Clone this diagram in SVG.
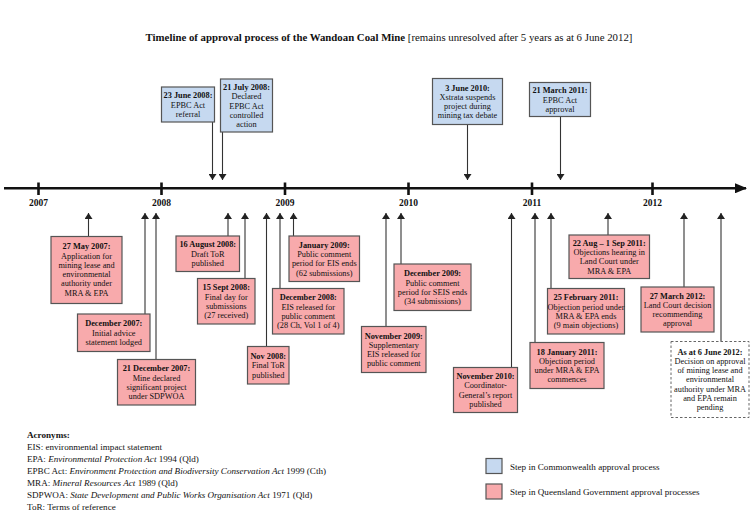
<svg xmlns="http://www.w3.org/2000/svg" width="754" height="516" viewBox="0 0 754 516">
<style>
text{font-family:"Liberation Serif","Times New Roman",serif;fill:#111}
.bx text{font-size:8.3px;text-anchor:middle}
.b{font-weight:bold}
.cw rect{fill:#c6d9f0;stroke:#555;stroke-width:1.2}
.ql rect{fill:#f8aaac;stroke:#555;stroke-width:1.2}
.dash rect{fill:#fff;stroke:#666;stroke-width:1;stroke-dasharray:2.5 2}
.ln{stroke:#333;stroke-width:1.1;fill:none}
.yr{font-size:9.5px;font-weight:bold;text-anchor:middle}
.ac{font-size:9.1px}
</style>
<defs>
<marker id="ah" viewBox="0 0 6 8" refX="6" refY="4" markerWidth="6" markerHeight="8" markerUnits="userSpaceOnUse" orient="auto">
<path d="M0,0 L6,4 L0,8 z" fill="#222"/>
</marker>
<marker id="axh" viewBox="0 0 12 10" refX="11" refY="5" markerWidth="12" markerHeight="10" markerUnits="userSpaceOnUse" orient="auto">
<path d="M0,0 L12,5 L0,10 z" fill="#111"/>
</marker>
</defs>
<rect width="754" height="516" fill="#fff"/>
<text x="389" y="41" style="font-size:10.8px" text-anchor="middle"><tspan font-weight="bold">Timeline of approval process of the Wandoan Coal Mine</tspan> [remains unresolved after 5 years as at 6 June 2012]</text>

<g id="axis">
<line x1="4" y1="188.3" x2="746" y2="188.3" stroke="#111" stroke-width="2.6" marker-end="url(#axh)"/>
<g stroke="#111" stroke-width="2.6">
<line x1="38.5" y1="182.5" x2="38.5" y2="195"/>
<line x1="161.5" y1="182.5" x2="161.5" y2="195"/>
<line x1="285" y1="182.5" x2="285" y2="195"/>
<line x1="408.5" y1="182.5" x2="408.5" y2="195"/>
<line x1="532" y1="182.5" x2="532" y2="195"/>
<line x1="652.5" y1="182.5" x2="652.5" y2="195"/>
</g>
<text class="yr" x="38.5" y="206">2007</text>
<text class="yr" x="161.5" y="206">2008</text>
<text class="yr" x="285" y="206">2009</text>
<text class="yr" x="408.5" y="206">2010</text>
<text class="yr" x="532" y="206">2011</text>
<text class="yr" x="652.5" y="206">2012</text>
</g>

<g id="connectors">
<line class="ln" x1="212.5" y1="122" x2="212.5" y2="180" marker-end="url(#ah)"/>
<line class="ln" x1="222.5" y1="132" x2="222.5" y2="180" marker-end="url(#ah)"/>
<line class="ln" x1="467.5" y1="124.5" x2="467.5" y2="180" marker-end="url(#ah)"/>
<line class="ln" x1="560.5" y1="116.5" x2="560.5" y2="180" marker-end="url(#ah)"/>
<line class="ln" x1="88.5" y1="236.5" x2="88.5" y2="213" marker-end="url(#ah)"/>
<line class="ln" x1="145" y1="314" x2="145" y2="213" marker-end="url(#ah)"/>
<line class="ln" x1="156" y1="359.5" x2="156" y2="213" marker-end="url(#ah)"/>
<line class="ln" x1="228" y1="236" x2="228" y2="213" marker-end="url(#ah)"/>
<line class="ln" x1="245" y1="278.5" x2="245" y2="213" marker-end="url(#ah)"/>
<line class="ln" x1="266.5" y1="346.5" x2="266.5" y2="213" marker-end="url(#ah)"/>
<line class="ln" x1="280" y1="288.5" x2="280" y2="213" marker-end="url(#ah)"/>
<line class="ln" x1="293.5" y1="236" x2="293.5" y2="213" marker-end="url(#ah)"/>
<line class="ln" x1="386" y1="326.5" x2="386" y2="213" marker-end="url(#ah)"/>
<line class="ln" x1="401" y1="264" x2="401" y2="213" marker-end="url(#ah)"/>
<line class="ln" x1="511.5" y1="367.5" x2="511.5" y2="213" marker-end="url(#ah)"/>
<line class="ln" x1="535" y1="342.5" x2="535" y2="213" marker-end="url(#ah)" stroke-width="1.6"/>
<line class="ln" x1="551" y1="288.5" x2="551" y2="213" marker-end="url(#ah)"/>
<line class="ln" x1="608" y1="235" x2="608" y2="213" marker-end="url(#ah)"/>
<line class="ln" x1="684" y1="287" x2="684" y2="213" marker-end="url(#ah)"/>
<line class="ln" x1="721" y1="341.5" x2="721" y2="213" marker-end="url(#ah)"/>
</g>

<g id="n-jun2008" class="bx cw">
<rect x="161.5" y="87" width="53" height="35"/>
<text x="188" y="98.2"><tspan class="b">23 June 2008:</tspan><tspan x="188" y="107.5">EPBC Act</tspan><tspan x="188" y="116.8">referral</tspan></text>
</g>
<g id="n-jul2008" class="bx cw">
<rect x="220.5" y="79" width="52" height="53"/>
<text x="246.5" y="89.9"><tspan class="b">21 July 2008:</tspan><tspan x="246.5" y="99.2">Declared</tspan><tspan x="246.5" y="108.5">EPBC Act</tspan><tspan x="246.5" y="117.8">controlled</tspan><tspan x="246.5" y="127.1">action</tspan></text>
</g>
<g id="n-jun2010" class="bx cw">
<rect x="432.5" y="78.5" width="70" height="46"/>
<text x="467.5" y="90.5"><tspan class="b">3 June 2010:</tspan><tspan x="467.5" y="99.8">Xstrata suspends</tspan><tspan x="467.5" y="109.1">project during</tspan><tspan x="467.5" y="118.4">mining tax debate</tspan></text>
</g>
<g id="n-mar2011" class="bx cw">
<rect x="529.5" y="82.5" width="61" height="34"/>
<text x="560" y="93.2"><tspan class="b">21 March 2011:</tspan><tspan x="560" y="102.5">EPBC Act</tspan><tspan x="560" y="111.8">approval</tspan></text>
</g>

<g id="n-may2007" class="bx ql">
<rect x="51" y="236.5" width="71" height="67"/>
<text x="86.5" y="249.2"><tspan class="b">27 May 2007:</tspan><tspan x="86.5" y="258.5">Application for</tspan><tspan x="86.5" y="267.8">mining lease and</tspan><tspan x="86.5" y="277.1">environmental</tspan><tspan x="86.5" y="286.4">authority under</tspan><tspan x="86.5" y="295.7">MRA &amp; EPA</tspan></text>
</g>
<g id="n-dec2007" class="bx ql">
<rect x="77.5" y="314" width="72.5" height="37.5"/>
<text x="113.75" y="326.4"><tspan class="b">December 2007:</tspan><tspan x="113.75" y="335.7">Initial advice</tspan><tspan x="113.75" y="345">statement lodged</tspan></text>
</g>
<g id="n-21dec2007" class="bx ql">
<rect x="117.5" y="359.5" width="78" height="45.5"/>
<text x="156.5" y="371.25"><tspan class="b">21 December 2007:</tspan><tspan x="156.5" y="380.55">Mine declared</tspan><tspan x="156.5" y="389.85">significant project</tspan><tspan x="156.5" y="399.15">under SDPWOA</tspan></text>
</g>
<g id="n-aug2008" class="bx ql">
<rect x="176" y="236" width="63.5" height="35.5"/>
<text x="207.75" y="247.4"><tspan class="b">16 August 2008:</tspan><tspan x="207.75" y="256.7">Draft ToR</tspan><tspan x="207.75" y="266">published</tspan></text>
</g>
<g id="n-sep2008" class="bx ql">
<rect x="197.5" y="278.5" width="57.5" height="45.5"/>
<text x="226.25" y="290.25"><tspan class="b">15 Sept 2008:</tspan><tspan x="226.25" y="299.55">Final day for</tspan><tspan x="226.25" y="308.85">submissions</tspan><tspan x="226.25" y="318.15">(27 received)</tspan></text>
</g>
<g id="n-nov2008" class="bx ql">
<rect x="247.5" y="346.5" width="41.5" height="37.5"/>
<text x="268.25" y="358.9"><tspan class="b">Nov 2008:</tspan><tspan x="268.25" y="368.2">Final ToR</tspan><tspan x="268.25" y="377.5">published</tspan></text>
</g>
<g id="n-dec2008" class="bx ql">
<rect x="272.5" y="288.5" width="71.5" height="45.5"/>
<text x="308.25" y="300.25"><tspan class="b">December 2008:</tspan><tspan x="308.25" y="309.55">EIS released for</tspan><tspan x="308.25" y="318.85">public comment</tspan><tspan x="308.25" y="328.15">(28 Ch, Vol 1 of 4)</tspan></text>
</g>
<g id="n-jan2009" class="bx ql">
<rect x="289" y="236" width="70.5" height="45.5"/>
<text x="324.25" y="247.75"><tspan class="b">January 2009:</tspan><tspan x="324.25" y="257.05">Public comment</tspan><tspan x="324.25" y="266.35">period for EIS ends</tspan><tspan x="324.25" y="275.65">(62 submissions)</tspan></text>
</g>
<g id="n-nov2009" class="bx ql">
<rect x="361.5" y="326.5" width="64.5" height="46"/>
<text x="393.75" y="338.5"><tspan class="b">November 2009:</tspan><tspan x="393.75" y="347.8">Supplementary</tspan><tspan x="393.75" y="357.1">EIS released for</tspan><tspan x="393.75" y="366.4">public comment</tspan></text>
</g>
<g id="n-dec2009" class="bx ql">
<rect x="394" y="264" width="77" height="46.5"/>
<text x="432.5" y="276.25"><tspan class="b">December 2009:</tspan><tspan x="432.5" y="285.55">Public comment</tspan><tspan x="432.5" y="294.85">period for SEIS ends</tspan><tspan x="432.5" y="304.15">(34 submissions)</tspan></text>
</g>
<g id="n-nov2010" class="bx ql">
<rect x="453.5" y="367.5" width="64" height="45"/>
<text x="485.5" y="379"><tspan class="b">November 2010:</tspan><tspan x="485.5" y="388.3">Coordinator-</tspan><tspan x="485.5" y="397.6">General’s report</tspan><tspan x="485.5" y="406.9">published</tspan></text>
</g>
<g id="n-jan2011" class="bx ql">
<rect x="530" y="342.5" width="74" height="46"/>
<text x="567" y="354.5"><tspan class="b">18 January 2011:</tspan><tspan x="567" y="363.8">Objection period</tspan><tspan x="567" y="373.1">under MRA &amp; EPA</tspan><tspan x="567" y="382.4">commences</tspan></text>
</g>
<g id="n-feb2011" class="bx ql">
<rect x="547.5" y="288.5" width="77" height="45.5"/>
<text x="586" y="300.25"><tspan class="b">25 February 2011:</tspan><tspan x="586" y="309.55">Objection period under</tspan><tspan x="586" y="318.85">MRA &amp; EPA ends</tspan><tspan x="586" y="328.15">(9 main objections)</tspan></text>
</g>
<g id="n-aug2011" class="bx ql">
<rect x="569" y="235" width="80.5" height="43.5"/>
<text x="609.25" y="245.75"><tspan class="b">22 Aug – 1 Sep 2011:</tspan><tspan x="609.25" y="255.05">Objections hearing in</tspan><tspan x="609.25" y="264.35">Land Court under</tspan><tspan x="609.25" y="273.65">MRA &amp; EPA</tspan></text>
</g>
<g id="n-mar2012" class="bx ql">
<rect x="641" y="287" width="73" height="45"/>
<text x="677.5" y="298.5"><tspan class="b">27 March 2012:</tspan><tspan x="677.5" y="307.8">Land Court decision</tspan><tspan x="677.5" y="317.1">recommending</tspan><tspan x="677.5" y="326.4">approval</tspan></text>
</g>
<g id="n-jun2012" class="bx dash">
<rect x="671" y="341.5" width="78" height="76"/>
<text x="710" y="354.55"><tspan class="b">As at 6 June 2012:</tspan><tspan x="710" y="363.85">Decision on approval</tspan><tspan x="710" y="373.15">of mining lease and</tspan><tspan x="710" y="382.45">environmental</tspan><tspan x="710" y="391.75">authority under MRA</tspan><tspan x="710" y="401.05">and EPA remain</tspan><tspan x="710" y="410.35">pending</tspan></text>
</g>

<g id="acronyms" class="ac">
<text x="27" y="437.5" font-weight="bold">Acronyms:</text>
<text x="27" y="449.5">EIS: environmental impact statement</text>
<text x="27" y="461.8">EPA: <tspan font-style="italic">Environmental Protection Act</tspan> 1994 (Qld)</text>
<text x="27" y="474">EPBC Act: <tspan font-style="italic">Environment Protection and Biodiversity Conservation Act</tspan> 1999 (Cth)</text>
<text x="27" y="486.2">MRA: <tspan font-style="italic">Mineral Resources Act</tspan> 1989 (Qld)</text>
<text x="27" y="498.2">SDPWOA: <tspan font-style="italic">State Development and Public Works Organisation Act</tspan> 1971 (Qld)</text>
<text x="27" y="510.2">ToR: Terms of reference</text>
</g>

<g id="legend">
<rect x="486" y="458.5" width="16" height="15" fill="#c6d9f0" stroke="#555" stroke-width="1.2"/>
<text x="510" y="469.5" style="font-size:9.1px">Step in Commonwealth approval process</text>
<rect x="486" y="484" width="16" height="15" fill="#f8aaac" stroke="#555" stroke-width="1.2"/>
<text x="510" y="495" style="font-size:9.1px">Step in Queensland Government approval processes</text>
</g>
</svg>
